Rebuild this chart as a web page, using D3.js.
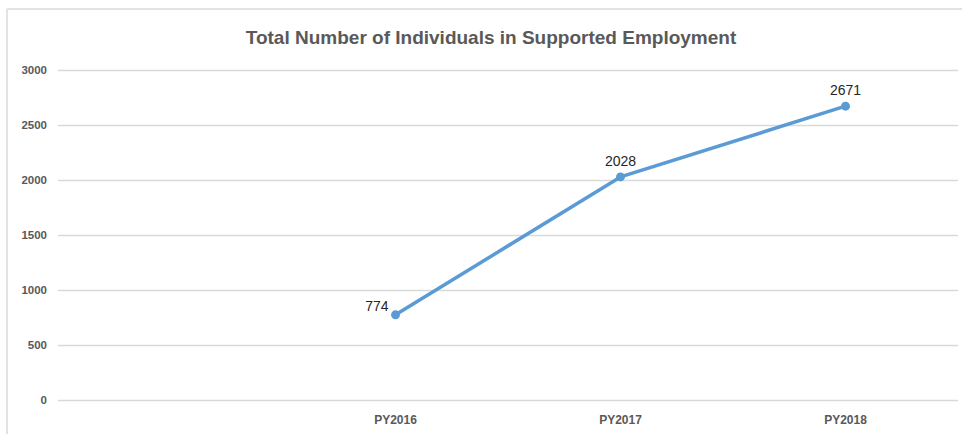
<!DOCTYPE html>
<html>
<head>
<meta charset="utf-8">
<script src="https://cdn.jsdelivr.net/npm/d3@7"></script>
<style>
  body { margin: 0; background: #fff; }
  svg { display: block; }
</style>
</head>
<body>
<script>
// chart data
var categories = ["", "PY2016", "PY2017", "PY2018"];
var values = [null, 774, 2028, 2671];
var yTicks = [0, 500, 1000, 1500, 2000, 2500, 3000];
var title = "Total Number of Individuals in Supported Employment";

var width = 962, height = 434;
var margin = { top: 70, right: 4, bottom: 34, left: 58 };

var svg = d3.select("body")
    .append("svg")
    .attr("width", width)
    .attr("height", height);

// outer frame (top and left edges visible in the picture)
svg.append("line")
    .attr("x1", 7).attr("x2", width)
    .attr("y1", 9).attr("y2", 9)
    .attr("stroke", "#e3e3e3")
    .attr("stroke-width", 2);
svg.append("line")
    .attr("x1", 7).attr("x2", 7)
    .attr("y1", 9).attr("y2", height)
    .attr("stroke", "#e3e3e3")
    .attr("stroke-width", 2);

var x = d3.scaleBand()
    .domain(categories)
    .range([margin.left, width - margin.right]);

var y = d3.scaleLinear()
    .domain([0, 3000])
    .range([height - margin.bottom, margin.top]);

// -------------------------------------------------------------------------- //
//                                  AXES                                      //
// -------------------------------------------------------------------------- //

var yAxis = svg.append("g")
    .attr("transform", "translate(" + margin.left + ",0)")
    .call(d3.axisLeft(y)
        .tickValues(yTicks)
        .tickFormat(d3.format("d"))
        .tickSize(-(width - margin.left - margin.right))
        .tickPadding(11));

yAxis.select(".domain").remove();
yAxis.selectAll(".tick line")
    .attr("stroke", "#d9d9d9")
    .attr("stroke-width", 1.3);
yAxis.selectAll(".tick text")
    .attr("fill", "#595959")
    .style("font-family", "Liberation Sans, sans-serif")
    .style("font-weight", "bold")
    .style("font-size", "11.5px");

var xAxis = svg.append("g")
    .attr("transform", "translate(0," + (height - margin.bottom) + ")")
    .call(d3.axisBottom(x).tickSize(0).tickPadding(15));

xAxis.select(".domain").remove();
xAxis.selectAll(".tick text")
    .attr("fill", "#595959")
    .style("font-family", "Liberation Sans, sans-serif")
    .style("font-weight", "bold")
    .style("font-size", "12px");

// -------------------------------------------------------------------------- //
//                                  TITLE                                     //
// -------------------------------------------------------------------------- //

svg.append("text")
    .text(title)
    .attr("x", 491)
    .attr("y", 44)
    .attr("fill", "#595959")
    .style("font-family", "Liberation Sans, sans-serif")
    .style("font-weight", "bold")
    .style("font-size", "19px")
    .style("text-anchor", "middle");

// -------------------------------------------------------------------------- //
//                                  LINE                                      //
// -------------------------------------------------------------------------- //

var points = categories
    .map(function(c, i) { return { cat: c, value: values[i] }; })
    .filter(function(d) { return d.value != null; });

var lineFunction = d3.line()
    .x(function(d) { return x(d.cat) + x.bandwidth() / 2; })
    .y(function(d) { return y(d.value); });

svg.append("path")
    .attr("d", lineFunction(points))
    .attr("fill", "none")
    .attr("stroke", "#5b9bd5")
    .attr("stroke-width", 3.5)
    .attr("stroke-linejoin", "round")
    .attr("stroke-linecap", "round");

svg.selectAll(".dot")
    .data(points)
    .enter()
    .append("circle")
    .attr("class", "dot")
    .attr("cx", function(d) { return x(d.cat) + x.bandwidth() / 2; })
    .attr("cy", function(d) { return y(d.value); })
    .attr("r", 4.5)
    .attr("fill", "#5b9bd5");

// data labels: first one sits left of the point, others above
svg.selectAll(".label")
    .data(points)
    .enter()
    .append("text")
    .attr("class", "label")
    .text(function(d) { return d.value; })
    .attr("x", function(d, i) {
        var cx = x(d.cat) + x.bandwidth() / 2;
        return i == 0 ? cx - 7 : cx;
    })
    .attr("y", function(d, i) {
        return i == 0 ? y(d.value) - 4 : y(d.value) - 11;
    })
    .attr("fill", "#262626")
    .style("font-family", "Liberation Sans, sans-serif")
    .style("font-size", "14px")
    .style("text-anchor", function(d, i) { return i == 0 ? "end" : "middle"; });
</script>
</body>
</html>
